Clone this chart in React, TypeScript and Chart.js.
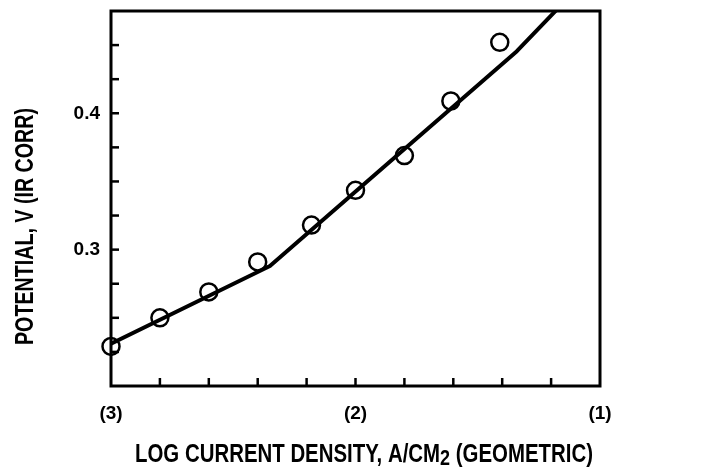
import React, { useEffect, useRef } from "react";
import { Chart, registerables } from "chart.js";

Chart.register(...registerables);

// Measured data points (log current density, potential V)
const pointX = [-3, -2.8, -2.6, -2.4, -2.18, -2.0, -1.8, -1.61, -1.41];
const pointY = [0.229, 0.25, 0.269, 0.291, 0.318, 0.3435, 0.369, 0.409, 0.452];

// Fitted line (polyline)
const lineX = [-3, -2.35, -1.34, -1.15];
const lineY = [0.231, 0.288, 0.4455, 0.481];

// Axis tick labels
const xLabelValues = [-3, -2, -1];
const xLabelTexts = ["(3)", "(2)", "(1)"];
const yLabelValues = [0.3, 0.4];
const yLabelTexts = ["0.3", "0.4"];

// Axis titles (x title split around the subscript "2")
const xTitleParts = ["LOG CURRENT DENSITY, A/CM", "2", " (GEOMETRIC)"];
const yTitle = "POTENTIAL, V (IR CORR)";

const FONT = '"Liberation Sans", Arial, sans-serif';

function labelFor(values: number[], texts: string[], v: number): string {
  for (let i = 0; i < values.length; i++) {
    if (Math.abs(values[i] - v) < 1e-6) return texts[i];
  }
  return "";
}

const frameAndTicks = {
  id: "frameAndTicks",
  afterDatasetsDraw(chart: any) {
    const { ctx, chartArea, scales } = chart;
    const { left, right, top, bottom } = chartArea;
    ctx.save();
    ctx.strokeStyle = "#000";
    ctx.lineWidth = 3;
    ctx.lineCap = "square";
    ctx.strokeRect(left, top, right - left, bottom - top);
    ctx.lineWidth = 2.5;
    ctx.lineCap = "butt";
    const len = 8;
    scales.x.ticks.forEach((t: any) => {
      const px = scales.x.getPixelForValue(t.value);
      if (px <= left + 2 || px >= right - 2) return;
      ctx.beginPath();
      ctx.moveTo(px, bottom);
      ctx.lineTo(px, bottom - len);
      ctx.stroke();
    });
    scales.y.ticks.forEach((t: any) => {
      const py = scales.y.getPixelForValue(t.value);
      if (py <= top + 2 || py >= bottom - 2) return;
      ctx.beginPath();
      ctx.moveTo(left, py);
      ctx.lineTo(left + len, py);
      ctx.stroke();
    });
    ctx.restore();
  },
};

const axisTitles = {
  id: "axisTitles",
  afterDraw(chart: any) {
    const ctx = chart.ctx;
    const big = `bold 25px ${FONT}`;
    const sub = `bold 22px ${FONT}`;

    // X title: condensed, centred under the plot
    ctx.save();
    ctx.fillStyle = "#000";
    ctx.textAlign = "left";
    ctx.textBaseline = "alphabetic";
    ctx.font = big;
    const w1 = ctx.measureText(xTitleParts[0]).width;
    const w3 = ctx.measureText(xTitleParts[2]).width;
    ctx.font = sub;
    const w2 = ctx.measureText(xTitleParts[1]).width;
    const total = w1 + w2 + w3;
    const targetW = 458;
    ctx.translate(364, 462);
    ctx.scale(targetW / total, 1);
    let x = -total / 2;
    ctx.font = big;
    ctx.fillText(xTitleParts[0], x, 0);
    x += w1;
    ctx.font = sub;
    ctx.fillText(xTitleParts[1], x, 3);
    x += w2;
    ctx.font = big;
    ctx.fillText(xTitleParts[2], x, 0);
    ctx.restore();

    // Y title: rotated, condensed
    ctx.save();
    ctx.fillStyle = "#000";
    ctx.textAlign = "center";
    ctx.textBaseline = "alphabetic";
    ctx.font = big;
    const wy = ctx.measureText(yTitle).width;
    ctx.translate(33, 226.5);
    ctx.rotate(-Math.PI / 2);
    ctx.scale(237 / wy, 1);
    ctx.fillText(yTitle, 0, 0);
    ctx.restore();
  },
};

export default function App() {
  const ref = useRef<HTMLCanvasElement | null>(null);

  useEffect(() => {
    if (!ref.current) return;
    const lineData = lineX.map((x, i) => ({ x, y: lineY[i] }));
    const pts = pointX.map((x, i) => ({ x, y: pointY[i] }));
    const chart = new Chart(ref.current, {
      type: "scatter",
      data: {
        datasets: [
          {
            data: lineData,
            showLine: true,
            borderColor: "#000",
            borderWidth: 4,
            pointRadius: 0,
            borderJoinStyle: "round",
            borderCapStyle: "round",
          } as any,
          {
            data: pts,
            showLine: false,
            pointStyle: "circle",
            pointRadius: 8.5,
            pointBorderWidth: 2.5,
            pointBorderColor: "#000",
            pointBackgroundColor: "rgba(0,0,0,0)",
            clip: false,
          } as any,
        ],
      },
      plugins: [frameAndTicks, axisTitles],
      options: {
        responsive: false,
        animation: false,
        devicePixelRatio: 1,
        layout: { padding: { left: 0, top: 10, right: 103, bottom: 0 } },
        plugins: { legend: { display: false }, tooltip: { enabled: false } },
        scales: {
          x: {
            type: "linear",
            min: -3,
            max: -1,
            grid: { display: false, drawTicks: false },
            border: { display: false },
            afterFit: (scale: any) => {
              scale.height = 85;
              scale.paddingLeft = 0;
              scale.paddingRight = 0;
            },
            ticks: {
              stepSize: 0.2,
              autoSkip: false,
              maxRotation: 0,
              padding: 16,
              color: "#000",
              font: { family: FONT, size: 19, weight: "bold" },
              callback: (v: any) => labelFor(xLabelValues, xLabelTexts, Number(v)),
            },
            title: { display: false },
          },
          y: {
            type: "linear",
            min: 0.2,
            max: 0.475,
            grid: { display: false, drawTicks: false },
            border: { display: false },
            afterFit: (scale: any) => {
              scale.width = 111;
              scale.paddingTop = 0;
              scale.paddingBottom = 0;
            },
            ticks: {
              stepSize: 0.025,
              autoSkip: false,
              padding: 11,
              color: "#000",
              font: { family: FONT, size: 19, weight: "bold" },
              callback: (v: any) => labelFor(yLabelValues, yLabelTexts, Number(v)),
            },
            title: { display: false },
          },
        },
      },
    } as any);
    return () => chart.destroy();
  }, []);

  return (
    <div style={{ position: "absolute", left: 0, top: 0, width: 703, height: 471, background: "#fff" }}>
      <canvas ref={ref} width={703} height={471} style={{ display: "block" }} />
    </div>
  );
}
